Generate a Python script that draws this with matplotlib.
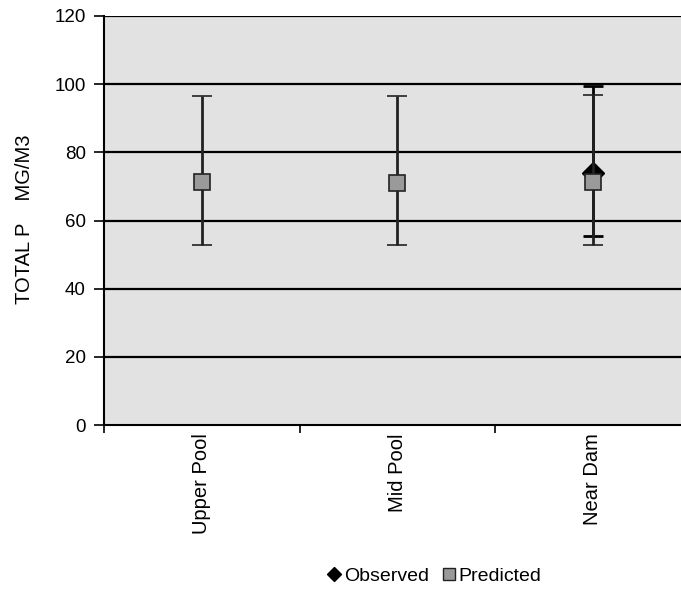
import matplotlib
matplotlib.use("Agg")
import matplotlib.pyplot as plt
from matplotlib.lines import Line2D
import numpy as np

categories = ["Upper Pool", "Mid Pool", "Near Dam"]
predicted = [71.3, 71.0, 71.3]
pred_low = [52.8, 52.8, 52.8]
pred_high = [96.5, 96.5, 96.7]
obs_cats = ["Near Dam"]
observed = [73.8]
obs_low = [55.4]
obs_high = [99.4]
yticks = [0, 20, 40, 60, 80, 100, 120]

plt.rcParams['font.family'] = ['Liberation Sans', 'DejaVu Sans']

fig = plt.figure(figsize=(6.81, 5.89), dpi=100)
W, H = 681, 589
left, right, top, bottom = 104, 690.5, 16, 425
ax = fig.add_axes([left / W, 1 - bottom / H, (right - left) / W, (bottom - top) / H])
ax.set_facecolor('#e2e2e2')

x = np.arange(len(categories))
ax.set_xlim(-0.5, len(categories) - 0.5)
ax.set_ylim(0, 120)

for v in yticks[1:]:
    ax.axhline(v, color='black', lw=1.6, zorder=1)

# observed
ox = [categories.index(c) for c in obs_cats]
ax.errorbar(ox, observed,
            yerr=[np.array(observed) - np.array(obs_low), np.array(obs_high) - np.array(observed)],
            fmt='D', color='black', ms=11, ecolor='black', elinewidth=2, capsize=7, capthick=2,
            zorder=3)
# predicted
ax.errorbar(x, predicted,
            yerr=[np.array(predicted) - np.array(pred_low), np.array(pred_high) - np.array(predicted)],
            fmt='s', mfc='#9a9a9a', mec='#222222', mew=1.2, ms=12, ecolor='#222222',
            elinewidth=2, capsize=7, capthick=2, zorder=4)

ax.set_yticks(yticks)
ax.set_yticklabels([str(v) for v in yticks], fontsize=13.5)
ax.set_xticks([-0.5, 0.5, 1.5])
ax.set_xticklabels([])
ax.tick_params(axis='x', length=6, width=1.2, direction='out')
ax.tick_params(axis='y', length=7, width=1.2, direction='out', pad=6)
for i, c in enumerate(categories):
    ax.text(i, -2.5, c, rotation=90, ha='center', va='top', fontsize=14.5)

for s in ['top', 'right']:
    ax.spines[s].set_visible(False)
ax.spines['left'].set_linewidth(1.5)
ax.spines['bottom'].set_linewidth(1.5)

fig.text(24 / W, 1 - 219 / H, "TOTAL P    MG/M3", rotation=90, ha='center', va='center', fontsize=14.5)

handles = [Line2D([], [], marker='D', color='black', ls='none', ms=7),
           Line2D([], [], marker='s', mfc='#9a9a9a', mec='#222222', ls='none', ms=8)]
fig.legend(handles, ["Observed", "Predicted"], loc='center', bbox_to_anchor=(433 / W, 1 - 576 / H),
           ncol=2, frameon=False, fontsize=14, handletextpad=0.0, columnspacing=0.5,
           handlelength=1.0)

fig.savefig("out.png", dpi=100)
